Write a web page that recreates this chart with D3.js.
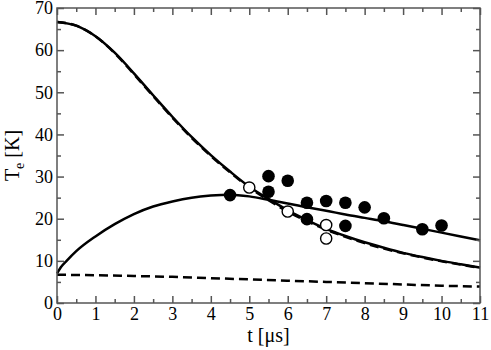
<!DOCTYPE html>
<html>
<head>
<meta charset="utf-8">
<script src="https://cdn.jsdelivr.net/npm/d3@7"></script>
<style>
  html, body { margin: 0; padding: 0; background: #fff; }
  .axis .domain { display: none; }
  .axis line { stroke: #555; stroke-width: 1.5; }
  .curve { fill: none; stroke: #000; stroke-width: 2.5; }
</style>
</head>
<body>
<div id="chart"></div>
<script>
'use strict';

const W = 491, H = 350;
const MARGIN = { top: 8, right: 11, bottom: 47, left: 57 };
const FONT = 'Times New Roman, Times, Liberation Serif, Tinos, serif';

// time grid used by the falling curves (μs)
const tGrid = [0, 0.5, 1, 1.5, 2, 2.5, 3, 3.5, 4, 4.5, 5, 5.5, 6, 6.5, 7, 7.5, 8, 8.5, 9, 9.5, 10, 10.5, 11];
// falling curve, solid
const coolSolid = [66.7, 65.8, 63.3, 59.4, 54.5, 49.3, 44.2, 39.4, 35.1, 31.2, 27.6, 24.7, 22.0, 19.7, 17.6, 15.9, 14.4, 13.1, 11.9, 10.9, 10.0, 9.2, 8.4];
// falling curve, dashed (almost on top of the solid one)
const coolDashed = [66.7, 65.8, 63.3, 59.3, 54.3, 49.1, 44.0, 39.2, 34.9, 31.0, 27.4, 24.4, 21.7, 19.4, 17.4, 15.7, 14.2, 12.9, 11.8, 10.8, 9.9, 9.1, 8.3];
// rising-then-falling solid curve
const heatT = [0, 0.1, 0.25, 0.5, 1, 1.5, 2, 2.5, 3, 3.5, 4, 4.5, 5, 5.5, 6, 6.5, 7, 7.5, 8, 8.5, 9, 9.5, 10, 10.5, 11];
const heatSolid = [7.0, 8.5, 10.0, 12.3, 15.8, 18.7, 21.1, 22.9, 24.1, 25.0, 25.5, 25.7, 25.3, 24.5, 23.6, 22.7, 21.9, 21.0, 20.2, 19.4, 18.5, 17.6, 16.7, 15.8, 14.9];
// bottom dashed curve
const lowT = [0, 1, 2, 3, 4, 5, 6, 7, 8, 9, 10, 11];
const lowDashed = [6.7, 6.6, 6.4, 6.2, 5.9, 5.6, 5.3, 5.0, 4.7, 4.4, 4.1, 3.9];

// measured points
const filledT = [4.5, 5.5, 5.5, 6.0, 6.5, 6.5, 7.0, 7.5, 7.5, 8.0, 8.5, 9.5, 10.0];
const filledTe = [25.6, 30.1, 26.4, 29.0, 23.8, 19.9, 24.2, 23.8, 18.3, 22.7, 20.1, 17.5, 18.4];
const openT = [5.0, 6.0, 7.0, 7.0];
const openTe = [27.4, 21.7, 18.5, 15.3];

const xTicks = d3.range(0, 12, 1);
const yTicks = d3.range(0, 71, 10);
const xMinor = d3.range(0.5, 11, 1);
const yMinor = d3.range(5, 70, 10);

const w = W - MARGIN.left - MARGIN.right;
const h = H - MARGIN.top - MARGIN.bottom;
const x = d3.scaleLinear().domain([0, 11]).range([0, w]);
const y = d3.scaleLinear().domain([0, 70]).range([h, 0]);

const svg = d3.select('#chart').append('svg').attr('width', W).attr('height', H);
const g = svg.append('g').attr('transform', `translate(${MARGIN.left},${MARGIN.top})`);

// curves
const line = d3.line().x(d => x(d[0])).y(d => y(d[1])).curve(d3.curveMonotoneX);
g.append('path').attr('class', 'curve').datum(tGrid.map((t, i) => [t, coolSolid[i]])).attr('d', line);
g.append('path').attr('class', 'curve').attr('stroke-dasharray', '9,5')
  .datum(tGrid.map((t, i) => [t, coolDashed[i]])).attr('d', line);
g.append('path').attr('class', 'curve').datum(heatT.map((t, i) => [t, heatSolid[i]])).attr('d', line);
g.append('path').attr('class', 'curve').attr('stroke-dasharray', '9,5')
  .datum(lowT.map((t, i) => [t, lowDashed[i]])).attr('d', line);

// points
g.selectAll('.filled').data(filledT.map((t, i) => [t, filledTe[i]]))
  .join('circle').attr('class', 'filled')
  .attr('cx', d => x(d[0])).attr('cy', d => y(d[1])).attr('r', 6.3).attr('fill', '#000');
g.selectAll('.open').data(openT.map((t, i) => [t, openTe[i]]))
  .join('circle').attr('class', 'open')
  .attr('cx', d => x(d[0])).attr('cy', d => y(d[1])).attr('r', 5.6)
  .attr('fill', '#fff').attr('stroke', '#000').attr('stroke-width', 1.4);

// axes: inward ticks on all four sides
const tickFont = sel => {
  sel.attr('font-family', FONT).attr('font-size', 18);
  sel.selectAll('text').attr('fill', '#000').attr('font-family', FONT);
};

g.append('g').attr('class', 'axis').attr('transform', `translate(0,${h})`)
  .call(d3.axisBottom(x).tickValues(xTicks).tickSize(-7).tickPadding(4).tickFormat(d3.format('d')))
  .call(tickFont);
g.append('g').attr('class', 'axis').attr('transform', `translate(0,${h})`)
  .call(d3.axisBottom(x).tickValues(xMinor).tickSize(-4).tickFormat(''));
g.append('g').attr('class', 'axis').call(d3.axisTop(x).tickValues(xTicks).tickSize(-7).tickFormat(''));
g.append('g').attr('class', 'axis').call(d3.axisTop(x).tickValues(xMinor).tickSize(-4).tickFormat(''));
g.append('g').attr('class', 'axis')
  .call(d3.axisLeft(y).tickValues(yTicks).tickSize(-7).tickPadding(4).tickFormat(d3.format('d')))
  .call(tickFont);
g.append('g').attr('class', 'axis').call(d3.axisLeft(y).tickValues(yMinor).tickSize(-4).tickFormat(''));
g.append('g').attr('class', 'axis').attr('transform', `translate(${w},0)`)
  .call(d3.axisRight(y).tickValues(yTicks).tickSize(-7).tickFormat(''));
g.append('g').attr('class', 'axis').attr('transform', `translate(${w},0)`)
  .call(d3.axisRight(y).tickValues(yMinor).tickSize(-4).tickFormat(''));

// frame
g.append('rect').attr('width', w).attr('height', h)
  .attr('fill', 'none').attr('stroke', '#555').attr('stroke-width', 1.5);

// axis titles
g.append('text').attr('x', w / 2).attr('y', h + 39).attr('text-anchor', 'middle')
  .attr('font-family', FONT).attr('font-size', 20).text('t [μs]');

const yl = g.append('text').attr('transform', `translate(-38,${h / 2}) rotate(-90)`)
  .attr('text-anchor', 'middle').attr('font-family', FONT).attr('font-size', 20);
yl.append('tspan').text('T');
yl.append('tspan').attr('dy', 5).attr('font-size', 14).text('e');
yl.append('tspan').attr('dy', -5).text(' [K]');
</script>
</body>
</html>
